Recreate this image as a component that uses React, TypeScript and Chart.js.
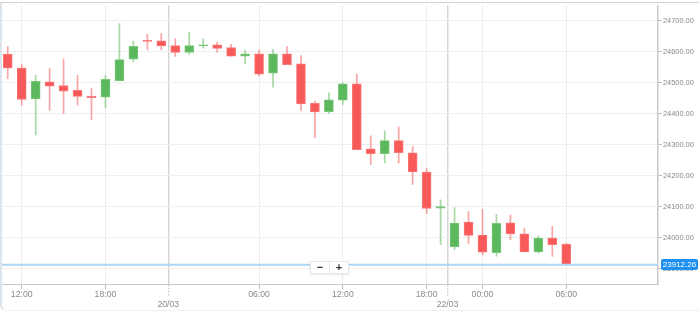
import React, { useEffect, useRef } from 'react';
import { Chart, registerables } from 'chart.js';

Chart.register(...registerables);

// Hourly candles (index-based time axis, gaps removed)
const OPEN = [24593, 24548, 24448, 24503, 24491, 24476, 24457, 24454, 24507, 24576, 24637, 24636, 24620, 24598, 24619, 24623, 24614, 24586, 24594, 24531, 24594, 24561, 24434, 24407, 24444, 24497, 24287, 24271, 24313, 24274, 24212, 24095, 23971, 24050, 24008, 23951, 24048, 24012, 23954, 23998, 23978];
const HIGH = [24617, 24559, 24524, 24547, 24577, 24524, 24483, 24524, 24691, 24635, 24657, 24660, 24643, 24663, 24643, 24631, 24624, 24606, 24606, 24608, 24617, 24588, 24441, 24468, 24500, 24528, 24329, 24345, 24358, 24294, 24223, 24122, 24097, 24084, 24091, 24075, 24073, 24030, 24006, 24036, 23982];
const LOW = [24513, 24428, 24332, 24411, 24401, 24428, 24380, 24419, 24507, 24567, 24606, 24606, 24585, 24591, 24612, 24599, 24586, 24561, 24522, 24486, 24559, 24411, 24323, 24401, 24430, 24284, 24236, 24241, 24241, 24172, 24078, 23977, 23962, 23980, 23945, 23940, 23993, 23954, 23950, 23939, 23912.26];
const CLOSE = [24548, 24446, 24505, 24489, 24473, 24456, 24452, 24511, 24575, 24618, 24634, 24619, 24598, 24620, 24623, 24611, 24586, 24594, 24528, 24594, 24559, 24432, 24406, 24445, 24497, 24284, 24271, 24313, 24274, 24212, 24094, 24100, 24047, 24007, 23953, 24046, 24012, 23954, 23998, 23977, 23912.26];

const LAST_PRICE = 23912.26;

const X_TICKS = [1, 7, 11.5, 18, 24, 30, 31.5, 34, 40];
const X_TICK_LABELS = ['12:00', '18:00', '20/03', '06:00', '12:00', '18:00', '22/03', '00:00', '06:00'];
const X_TICK_IS_DATE = [false, false, true, false, false, false, true, false, false];
const Y_TICKS = [23900, 24000, 24100, 24200, 24300, 24400, 24500, 24600, 24700];

const X_MIN = -0.41;
const X_MAX = 46.57;
const Y_MIN = 23850;
const Y_MAX = 24750;

const RED = '#f85a5a';
const RED_EDGE = '#fa7878';
const GREEN = '#5cb85c';
const GREEN_EDGE = '#7ac67a';
const RED_WICK = 'rgba(245,90,90,0.55)';
const GREEN_WICK = 'rgba(92,184,92,0.55)';

const FONT = "'Liberation Sans', Arial, sans-serif";

export default function App() {
  const canvasRef = useRef<HTMLCanvasElement | null>(null);

  useEffect(() => {
    document.body.style.margin = '0';
    const canvas = canvasRef.current;
    if (!canvas) return;
    const idx = OPEN.map((_, i) => i);
    const up = idx.map((i) => CLOSE[i] >= OPEN[i]);

    const chart = new Chart(canvas, {
      type: 'bar',
      data: {
        datasets: [
          {
            type: 'line',
            label: 'last',
            data: [
              { x: X_MIN, y: LAST_PRICE },
              { x: X_MAX, y: LAST_PRICE },
            ],
            borderColor: '#a9d6f5',
            borderWidth: 2,
            pointRadius: 0,
            order: 0,
          } as any,
          {
            type: 'bar',
            label: 'body',
            data: idx.map((i) => ({ x: i, y: [OPEN[i], CLOSE[i]] })),
            backgroundColor: up.map((u) => (u ? GREEN : RED)),
            borderColor: up.map((u) => (u ? GREEN_EDGE : RED_EDGE)),
            borderWidth: 1,
            borderSkipped: false,
            barThickness: 9,
            grouped: false,
            order: 1,
          } as any,
          {
            type: 'bar',
            label: 'wick',
            data: idx.map((i) => ({ x: i, y: [LOW[i], HIGH[i]] })),
            backgroundColor: up.map((u) => (u ? GREEN_WICK : RED_WICK)),
            borderWidth: 0,
            barThickness: 1,
            grouped: false,
            order: 2,
          } as any,
        ],
      },
      options: {
        animation: false,
        responsive: false,
        maintainAspectRatio: false,
        layout: { padding: { left: 2, top: 3, right: 0, bottom: 0 } },
        plugins: { legend: { display: false }, tooltip: { enabled: false } },
        scales: {
          x: {
            type: 'linear',
            min: X_MIN,
            max: X_MAX,
            offset: false,
            afterBuildTicks: (s: any) => {
              s.ticks = X_TICKS.map((v) => ({ value: v }));
            },
            afterFit: (s: any) => {
              s.height = 29;
            },
            grid: {
              offset: false,
              color: (ctx: any) => (X_TICK_IS_DATE[ctx.index] ? '#d6d6d6' : '#ececec'),
              lineWidth: (ctx: any) => (X_TICK_IS_DATE[ctx.index] ? 1.5 : 1),
              tickLength: 13,
              tickColor: '#bdbdbd',
              tickWidth: 1,
              tickBorderDash: (ctx: any) => (X_TICK_IS_DATE[ctx.index] ? [1.5, 1.5] : [4, 40]),
            },
            border: { color: '#c8c8c8', width: 1 },
            ticks: {
              autoSkip: false,
              maxRotation: 0,
              minRotation: 0,
              padding: -7.7,
              color: '#8a8a8a',
              font: { family: FONT, size: 8.7 },
              callback: (_v: any, i: number) =>
                X_TICK_IS_DATE[i] ? ['', X_TICK_LABELS[i]] : X_TICK_LABELS[i],
            },
          },
          y: {
            type: 'linear',
            position: 'right',
            min: Y_MIN,
            max: Y_MAX,
            afterBuildTicks: (s: any) => {
              s.ticks = Y_TICKS.map((v) => ({ value: v }));
            },
            afterFit: (s: any) => {
              s.width = 41;
            },
            grid: { color: '#efefef', lineWidth: 1, tickLength: 4, tickColor: '#bbbbbb' },
            border: { color: '#c8c8c8', width: 1.5 },
            ticks: {
              padding: 1,
              color: '#888888',
              font: { family: FONT, size: 7.4 },
              callback: (v: any) => Number(v).toFixed(2),
            },
          },
        },
      } as any,
    });
    return () => chart.destroy();
  }, []);

  return (
    <div style={{ position: 'relative', width: 699, height: 313, background: '#fff' }}>
      <canvas ref={canvasRef} width={699} height={313} style={{ display: 'block', width: 699, height: 313 }} />
      <div
        style={{
          position: 'absolute',
          left: 0,
          top: 2,
          width: 699,
          height: 309,
          boxSizing: 'border-box',
          borderTop: '1px solid #d2d2d2',
          borderLeft: '2px solid #dce4ec',
          borderBottom: '1px solid #edf1f4',
          borderBottomLeftRadius: 6,
          pointerEvents: 'none',
        }}
      />
      <div
        style={{
          position: 'absolute',
          left: 310,
          top: 261,
          width: 39,
          height: 13,
          boxSizing: 'border-box',
          background: '#fff',
          border: '1px solid #e8e8e8',
          boxShadow: '0 1px 2px rgba(0,0,0,0.08)',
          display: 'flex',
          fontFamily: FONT,
          fontWeight: 'bold',
          fontSize: 11,
          color: '#333',
          lineHeight: '11px',
        }}
      >
        <div style={{ flex: 1, textAlign: 'center', borderRight: '1px solid #e8e8e8' }}>−</div>
        <div style={{ flex: 1, textAlign: 'center' }}>+</div>
      </div>
      <div
        style={{
          position: 'absolute',
          left: 661,
          top: 258.5,
          width: 37,
          height: 11,
          background: '#1e90f0',
          borderRadius: 2,
          color: '#fff',
          fontFamily: FONT,
          fontSize: 8,
          lineHeight: '11px',
          textAlign: 'center',
        }}
      >
        23912.26
      </div>
    </div>
  );
}
